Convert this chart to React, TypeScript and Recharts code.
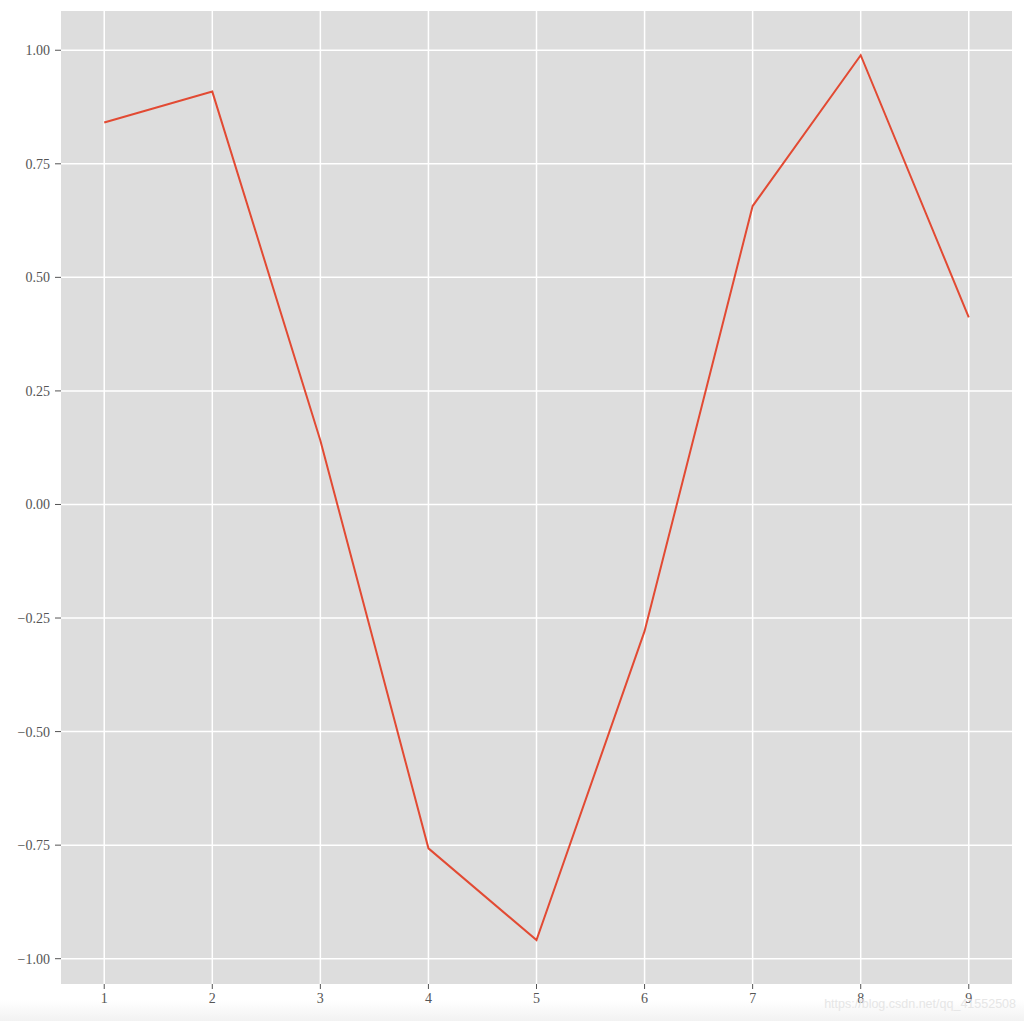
import { CartesianGrid, Line, LineChart, XAxis, YAxis } from 'recharts';

const xValues = [1, 2, 3, 4, 5, 6, 7, 8, 9];
const yValues = [0.841, 0.909, 0.141, -0.757, -0.959, -0.279, 0.657, 0.989, 0.412];
const xTicks = [1, 2, 3, 4, 5, 6, 7, 8, 9];
const yTicks = [-1, -0.75, -0.5, -0.25, 0, 0.25, 0.5, 0.75, 1];

const data = xValues.map((x, i) => ({ x, y: yValues[i] }));

const tickStyle = { fill: '#555555', fontSize: 14, fontFamily: '"Liberation Serif", serif' };

const formatY = (v: number) => (v < 0 ? '\u2212' + Math.abs(v).toFixed(2) : v.toFixed(2));

export default function App() {
  return (
    <div style={{ position: 'absolute', left: 0, top: 0, width: 1024, height: 1021, background: '#ffffff' }}>
      <div
        style={{
          position: 'absolute',
          left: 0,
          top: 1000,
          width: 1024,
          height: 21,
          background: 'linear-gradient(#ffffff, #f2f2f2)',
        }}
      />
      <LineChart width={1024} height={1021} data={data} margin={{ top: 11, right: 12, bottom: 0, left: 0 }}>
        <CartesianGrid fill="#dddddd" stroke="#ffffff" strokeWidth={1.5} horizontalValues={yTicks} verticalValues={xTicks} />
        <XAxis
          dataKey="x"
          type="number"
          domain={[0.6, 9.4]}
          ticks={xTicks}
          height={37}
          axisLine={false}
          tickLine={{ stroke: '#555555' }}
          tickSize={5}
          tickMargin={4}
          tick={tickStyle}
          interval={0}
        />
        <YAxis
          type="number"
          domain={[-1.0557, 1.0864]}
          ticks={yTicks}
          width={61}
          axisLine={false}
          tickLine={{ stroke: '#555555' }}
          tickSize={6}
          tickMargin={5}
          tick={tickStyle}
          tickFormatter={formatY}
          interval={0}
          allowDataOverflow
        />
        <Line
          type="linear"
          dataKey="y"
          stroke="#E24A33"
          strokeWidth={2}
          dot={false}
          activeDot={false}
          isAnimationActive={false}
        />
      </LineChart>
      <div
        style={{
          position: 'absolute',
          right: 8,
          top: 997,
          fontFamily: 'Arial, "Liberation Sans", sans-serif',
          fontSize: 12.5,
          color: '#e6e6e6',
          whiteSpace: 'nowrap',
        }}
      >
        https://blog.csdn.net/qq_41552508
      </div>
    </div>
  );
}
